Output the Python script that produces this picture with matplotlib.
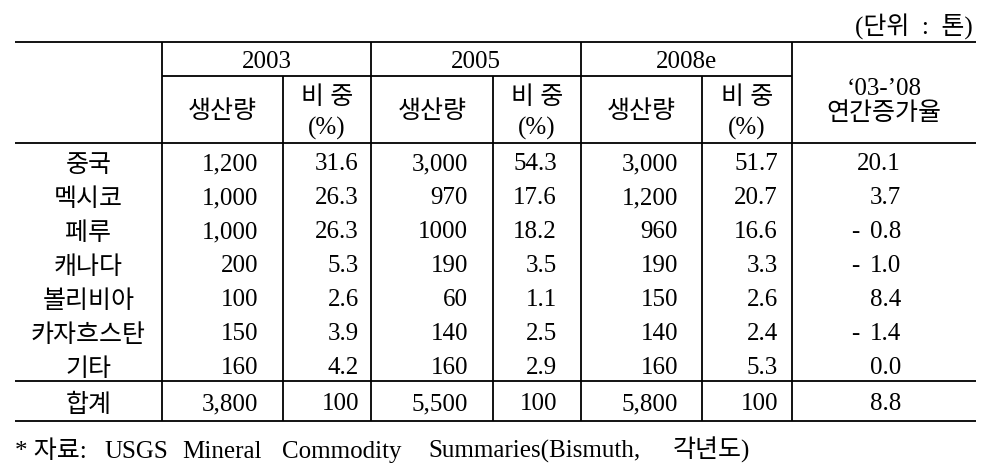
import matplotlib
matplotlib.use("Agg")
import matplotlib.pyplot as plt

countries = ["중국", "멕시코", "페루", "캐나다", "볼리비아", "카자흐스탄", "기타"]
prod_2003 = ["1,200", "1,000", "1,000", "200", "100", "150", "160"]
share_2003 = [31.6, 26.3, 26.3, 5.3, 2.6, 3.9, 4.2]
prod_2005 = ["3,000", "970", "1000", "190", "60", "140", "160"]
share_2005 = [54.3, 17.6, 18.2, 3.5, 1.1, 2.5, 2.9]
prod_2008 = ["3,000", "1,200", "960", "190", "150", "140", "160"]
share_2008 = [51.7, 20.7, 16.6, 3.3, 2.6, 2.4, 5.3]
growth = [20.1, 3.7, -0.8, -1.0, 8.4, -1.4, 0.0]

total_label = "합계"
total_prod = ["3,800", "5,500", "5,800"]
total_share = [100, 100, 100]
total_growth = 8.8

years = ["2003", "2005", "2008e"]
unit_note = "(단위  :  톤)"
source_words = ["* 자료:", "USGS", "Mineral", "Commodity", "Summaries(Bismuth,", "각년도)"]

FONT = ["Liberation Serif", "Noto Sans CJK KR"]
FS = 18
LW = 1.3
BASE = 8  # baseline offset below the visual centre of a line
HANGUL_DY = 2  # Noto CJK glyphs sit a little high next to the serif digits

fig = plt.figure(figsize=(9.82, 4.77), dpi=100)
ax = fig.add_axes([0, 0, 1, 1])
ax.set_xlim(0, 982)
ax.set_ylim(477, 0)
ax.axis("off")

# grid geometry (pixels)
x_left, x_right = 15, 976
x_lab = 162
x_grp = [162, 371, 581, 792]
x_sub = [283, 493, 702]
y_top, y_mid, y_head = 43, 77, 144
y_tot, y_bot = 382, 422

for y in (y_top, y_head, y_tot, y_bot):
    ax.hlines(y, x_left, x_right, color="black", lw=LW)
ax.hlines(y_mid, x_grp[0], x_grp[-1], color="black", lw=LW)
for x in x_grp:
    ax.vlines(x, y_top, y_bot, color="black", lw=LW)
for x in x_sub:
    ax.vlines(x, y_mid, y_bot, color="black", lw=LW)


def txt(x, y, s, ha="center", size=FS, dy=0):
    ax.text(x, y + BASE + dy, s, ha=ha, va="baseline", fontsize=size, family=FONT)


txt(973, 27, unit_note, ha="right")

# header
for i, yr in enumerate(years):
    txt((x_grp[i] + x_grp[i + 1]) / 2, 60, yr)
    txt((x_grp[i] + x_sub[i]) / 2, 108, "생산량", dy=HANGUL_DY)
    txt((x_sub[i] + x_grp[i + 1]) / 2, 94, "비 중", dy=HANGUL_DY)
    txt((x_sub[i] + x_grp[i + 1]) / 2, 127, "(%)")
txt((x_grp[-1] + x_right) / 2, 87, "\u201803-\u201908")
txt((x_grp[-1] + x_right) / 2, 110, "연간증가율", dy=HANGUL_DY)

# body
right_edges = [258, 359, 468, 557, 678, 778]
x_growth, x_minus = 901, 851
row_y = [162 + 34 * i for i in range(len(countries))]
cols = [prod_2003, share_2003, prod_2005, share_2005, prod_2008, share_2008]
for r, y in enumerate(row_y):
    txt((x_left + x_lab) / 2, y, countries[r], dy=HANGUL_DY)
    for c, vals in enumerate(cols):
        v = vals[r]
        s = v if isinstance(v, str) else f"{v:.1f}"
        txt(right_edges[c], y, s, ha="right")
    g = growth[r]
    if g < 0:
        txt(x_minus, y, "-", ha="left")
    txt(x_growth, y, f"{abs(g):.1f}", ha="right")

# total row
y = 402
txt((x_left + x_lab) / 2, y, total_label, dy=HANGUL_DY)
for i in range(3):
    txt(right_edges[2 * i], y, total_prod[i], ha="right")
    txt(right_edges[2 * i + 1], y, f"{total_share[i]}", ha="right")
txt(x_growth, y, f"{total_growth:.1f}", ha="right")

# source line, words spread like the justified original
word_x = [15, 104, 182, 282, 428, 673]
for wx, w in zip(word_x, source_words):
    txt(wx, 450, w, ha="left")

fig.savefig("out.png", dpi=100, facecolor="white")
